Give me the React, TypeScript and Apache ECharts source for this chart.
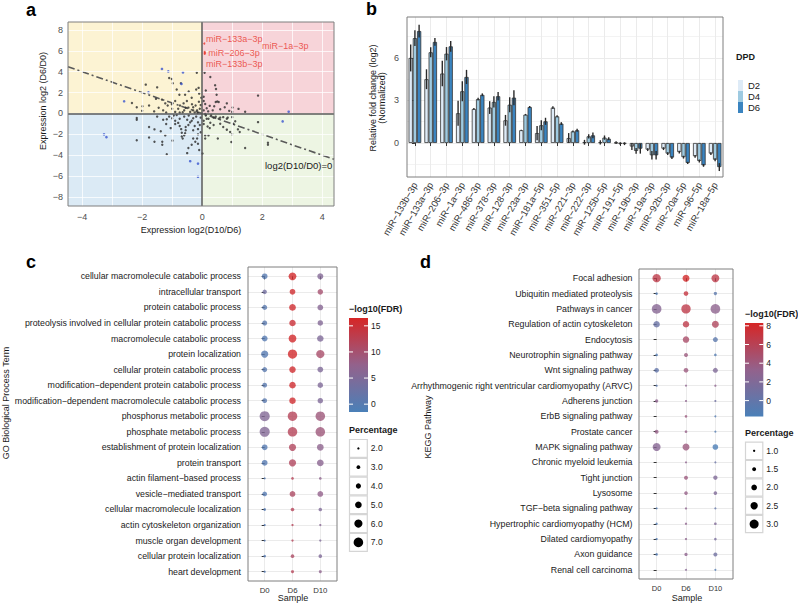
import React, { useEffect, useRef } from "react";
import * as echarts from "echarts";

const FONT = "'Liberation Sans', Arial, Helvetica, sans-serif";
const MINUS = "\u2212";
const fmtNum = (v: number) => String(v).replace("-", MINUS);

// ---------------- Panel a: scatter ----------------
const aPointsBlack: number[][] = [
  [-0.18, 3.9], [-1.1, 3.4], [-1.01, 3.3], [-0.71, 2.9], [-1.88, 2.76], [-1.5, 2.5], [-0.98, 2.9],
  [-0.76, 1.8], [-0.57, 1.8], [-0.1, 1.9], [-0.03, 1.5], [-0.12, 2.45], [-2.34, 1.0], [-2.18, 0.6],
  [-1.99, 0.7], [-1.77, 0.76], [-1.54, 1.4], [-1.34, 1.33], [-1.23, 0.97], [-1.01, 0.88], [-0.9, 1.2],
  [-0.74, 0.76], [-0.62, 0.97], [-0.51, 1.2], [-0.46, 0.56], [-0.34, 0.88], [-0.22, 0.76], [-0.17, 0.3],
  [-0.11, 1.13], [-0.3, 0.3], [-0.4, 0.15], [-0.6, 0.3], [-0.75, 0.1], [-0.9, 0.15], [-1.0, 0.45],
  [-1.15, 0.76], [-1.3, 0.3], [-1.6, 0.2], [-0.05, 0.8], [-0.08, 0.45], [-0.25, 0.1], [-0.55, 0.55],
  [-0.8, 0.45], [-1.45, 0.55], [-0.35, 1.5], [-0.45, 2.1], [-0.2, 2.3], [-0.85, 2.3], [-0.3, 0.6],
  [-2.0, 0.25], [-1.2, 0.1], [-0.65, 0.12], [-0.15, 0.05],
  [0.08, 3.9], [0.27, 3.5], [0.43, 2.7], [0.46, 2.35], [0.48, 1.8], [0.5, 1.15], [0.45, 1.1], [0.55, 1.1],
  [0.82, 0.97], [0.25, 0.73], [1.01, 0.57], [1.21, 0.44], [1.43, 0.17], [1.86, 1.71], [0.05, 1.6],
  [0.05, 1.2], [0.1, 0.9], [0.15, 0.5], [0.35, 0.3], [0.6, 0.4], [0.75, 0.6], [0.9, 0.25], [0.2, 0.2],
  [0.05, 0.3], [1.0, 0.15], [0.4, 0.7], [0.12, 2.2],
  [-2.18, -0.44], [-2.18, -0.6], [-2.18, -2.57], [-1.77, -1.3], [-1.77, -2.3], [-1.59, -1.52],
  [-1.38, -1.7], [-1.59, -2.7], [-1.33, -2.7], [-1.33, -3.0], [-1.18, -3.9], [-1.23, -2.1], [-0.99, -2.6],
  [-1.18, -0.55], [-1.1, -0.3], [-0.95, -0.2], [-0.9, -0.7], [-0.9, -1.0], [-0.8, -0.9], [-0.75, -0.5],
  [-0.75, -1.2], [-0.7, -1.5], [-0.68, -1.85], [-0.68, -2.2], [-0.65, -2.4], [-0.6, -2.1], [-0.57, -1.9],
  [-0.55, -1.6], [-0.46, -1.1], [-0.4, -0.85], [-0.35, -0.7], [-0.3, -0.45], [-0.25, -1.2], [-0.2, -0.3],
  [-0.14, -0.85], [-0.14, -1.5], [-0.14, -2.0], [-0.17, -2.4], [-0.23, -2.7], [-0.3, -2.4], [-0.35, -3.0],
  [-0.46, -3.3], [-0.5, -3.8], [-0.14, -2.9], [-0.1, -3.5], [-1.5, -0.3], [-1.3, -0.6], [-1.0, -0.45],
  [-0.6, -0.3], [-0.5, -0.6], [-0.85, -0.15], [-0.45, -0.2], [-0.55, -1.3], [-1.05, -1.4], [-1.2, -1.0],
  [-0.3, -1.6], [-0.05, -0.4], [-0.08, -1.1], [-0.05, -1.8],
  [2.19, -2.8], [2.19, -3.0], [1.86, -0.83], [1.43, -3.3], [0.97, -2.73], [0.52, -2.4], [0.1, -2.1],
  [0.1, -2.4], [0.01, -3.84], [0.21, -0.5], [0.27, -0.88], [0.38, -1.1], [0.6, -0.98], [0.82, -0.5],
  [0.6, -0.4], [0.85, -0.4], [1.04, -0.98], [1.19, -1.52], [1.25, -1.78], [0.7, -1.3], [0.82, -1.55],
  [0.25, -1.4], [0.18, -1.25], [0.15, -0.5], [0.12, -0.2], [0.1, -0.05], [0.45, -0.3], [0.55, -0.5],
  [0.38, -0.4], [0.7, -0.35], [1.0, -0.35], [1.1, -0.75], [0.3, -0.15], [0.05, -0.7], [0.05, -1.0],
  [0.93, -1.78], [1.0, -2.0], [0.21, -2.1],
];
const aPointsBlue: number[][] = [
  [-1.34, 4.26], [-1.13, 4.03], [-0.64, 3.93], [-0.69, 2.83], [-1.79, 2.03], [-2.6, 1.17], [2.88, 0.17],
  [-3.27, -2.0], [-3.19, -2.27], [-0.4, -4.57], [-0.14, -4.8], [-0.14, -6.06], [2.68, -0.76],
];
const aLabelNames = ["miR" + MINUS + "133a" + MINUS + "3p", "miR" + MINUS + "1a" + MINUS + "3p", "miR" + MINUS + "206" + MINUS + "3p", "miR" + MINUS + "133b" + MINUS + "3p"];
const aLabelX = [0.07, 0.08, 0.08, 0.09];
const aLabelY = [6.7, 5.9, 5.7, 5.8];
const aLabelPos = [[2.7, -4], [58.4, -4.4], [4.7, 0], [2.1, 11.6]];
const aXRange = [-4.47, 4.39];
const aYRange = [-8.86, 8.76];
const aXTicks = [-4, -2, 0, 2, 4];
const aYTicks = [-8, -6, -4, -2, 0, 2, 4, 6, 8];
const aXGrid = [-4, -3, -2, -1, 1, 2, 3, 4];
const aYGrid = [-8, -6, -4, -2, 2, 4, 6, 8];

// ---------------- Panel b: bars ----------------
const miRNAs = [
  "miR−133b−3p", "miR−133a−3p", "miR−206−3p", "miR−1a−3p", "miR−486−3p", "miR−378−3p", "miR−128−3p",
  "miR−23a−3p", "miR−181a−5p", "miR−351−5p", "miR−221−3p", "miR−222−3p", "miR−125b−5p", "miR−191−5p",
  "miR−19b−3p", "miR−19a−3p", "miR−92b−3p", "miR−20a−5p", "miR−96−5p", "miR−18a−5p",
];
const dpd = ["D2", "D4", "D6"];
const valD2 = [6.0, 4.5, 4.9, 2.1, 2.4, 2.5, 1.6, 0.9, 0.7, 2.5, 0.35, 0.05, 0.05, 0.02, -0.25, -0.47, -0.4, -0.64, -0.94, -0.75];
const errD2 = [0.95, 0.7, 0.9, 0.88, 0.06, 0.45, 0.38, 0.04, 0.5, 0.1, 0.35, 0.17, 0.15, 0.1, 0.25, 0.1, 0.1, 0.1, 0.1, 0.1];
const valD4 = [7.4, 6.4, 6.3, 3.65, 3.1, 2.9, 2.7, 2.0, 1.25, 1.88, 0.82, 0.47, 0.38, -0.05, -0.56, -0.87, -0.75, -1.0, -1.27, -1.18];
const errD4 = [0.55, 0.35, 0.47, 0.7, 0.1, 0.4, 0.53, 0.05, 0.35, 0.07, 0.06, 0.15, 0.15, 0.1, 0.2, 0.3, 0.1, 0.1, 0.1, 0.1];
const valD6 = [7.9, 7.13, 6.82, 4.66, 3.4, 3.3, 3.2, 2.54, 1.53, 1.37, 0.9, 0.54, 0.3, -0.05, -0.4, -0.87, -1.03, -1.41, -1.58, -1.7];
const errD6 = [0.45, 0.27, 0.38, 0.5, 0.1, 0.3, 0.53, 0.07, 0.25, 0.1, 0.1, 0.2, 0.1, 0.1, 0.35, 0.3, 0.1, 0.08, 0.1, 0.28];
const bYTicks = [0, 3, 6];
const bYRange = [-2.4, 8.89];

// ---------------- Panel c: GO dot plot ----------------
const samples = ["D0", "D6", "D10"];
const goTerms = [
  "cellular macromolecule catabolic process", "intracellular transport", "protein catabolic process",
  "proteolysis involved in cellular protein catabolic process", "macromolecule catabolic process",
  "protein localization", "cellular protein catabolic process",
  "modification−dependent protein catabolic process",
  "modification−dependent macromolecule catabolic process", "phosphorus metabolic process",
  "phosphate metabolic process", "establishment of protein localization", "protein transport",
  "actin filament−based process", "vesicle−mediated transport", "cellular macromolecule localization",
  "actin cytoskeleton organization", "muscle organ development", "cellular protein localization",
  "heart development",
];
const goPctD0 = [4.4, 3.5, 3.9, 3.9, 4.4, 5.4, 3.9, 3.7, 3.7, 7.4, 7.4, 4.4, 4.4, 1.9, 3.7, 2.3, 1.9, 1.9, 2.3, 2.0];
const goPctD6 = [5.8, 4.4, 5.1, 4.9, 5.8, 6.8, 4.9, 4.9, 4.9, 7.0, 7.0, 5.4, 5.4, 2.3, 4.4, 2.9, 2.0, 2.0, 2.9, 2.5];
const goPctD10 = [4.6, 4.2, 4.4, 4.2, 4.9, 6.1, 4.4, 4.2, 4.2, 7.0, 7.0, 5.1, 5.1, 2.3, 4.4, 2.9, 2.0, 2.0, 2.9, 2.5];
const goFdrD0 = [0.2, 3.5, 0.5, 0.5, 0, 0, 0.5, 0.5, 0.5, 5.5, 5.5, 0, 0, 0, 0, 0, 0, 0, 0, 0];
const goFdrD6 = [16, 15.5, 15.5, 15, 16, 16, 15.5, 15.5, 15.5, 12, 12, 11.5, 11.5, 12, 11, 12, 12, 12, 11, 12];
const goFdrD10 = [5.5, 10, 6, 5.5, 5, 10.5, 5, 5, 5, 9, 9, 7, 6.5, 7, 7.5, 5, 6, 5, 5, 7];
const goFdrRange = [-1.5, 16.5];
const goFdrTicks = [0, 5, 10, 15];
const goPctBreaks = [2.0, 3.0, 4.0, 5.0, 6.0, 7.0];

// ---------------- Panel d: KEGG dot plot ----------------
const keggTerms = [
  "Focal adhesion", "Ubiquitin mediated proteolysis", "Pathways in cancer", "Regulation of actin cytoskeleton",
  "Endocytosis", "Neurotrophin signaling pathway", "Wnt signaling pathway",
  "Arrhythmogenic right ventricular cardiomyopathy (ARVC)", "Adherens junction", "ErbB signaling pathway",
  "Prostate cancer", "MAPK signaling pathway", "Chronic myeloid leukemia", "Tight junction", "Lysosome",
  "TGF−beta signaling pathway", "Hypertrophic cardiomyopathy (HCM)", "Dilated cardiomyopathy",
  "Axon guidance", "Renal cell carcinoma",
];
const keggPctD0 = [2.8, 1.1, 3.2, 2.25, null, 1.1, 1.7, 1.0, 1.3, null, 1.5, 2.7, null, null, null, 0.95, 1.0, 1.0, 1.1, null];
const keggPctD6 = [2.4, 1.7, 3.1, 2.25, 2.25, 1.5, 1.7, 0.95, 0.95, 1.1, 1.1, 2.4, 0.95, 1.5, 1.4, 1.0, 1.0, 1.0, 1.3, 0.9];
const keggPctD10 = [2.7, 1.3, 3.2, 2.4, 1.8, 1.1, 1.8, 1.0, 0.95, 0.9, 0.95, 2.0, 0.95, 1.6, 1.4, 0.95, 1.1, 1.1, 1.5, 0.9];
const keggFdrD0 = [6.5, -1, 2.5, 0.5, null, -1, 0, -0.5, 3, null, 3.5, 2.5, null, null, null, -1, -1, -1, -1, null];
const keggFdrD6 = [8, 7, 6.5, 6.5, 5, 4, 4, 3, 3, 4, 3.5, 4, 3, 4, 3.5, 3, 3, 3, 3, 2.5];
const keggFdrD10 = [6.5, -0.5, 3, 5.5, -0.5, -1, 2, 3, 1, -1, -1, -1.5, 0.5, 2, 2, 0, 2, 1.5, 1, -1];
const keggFdrRange = [-1.7, 8.3];
const keggFdrTicks = [0, 2, 4, 6, 8];
const keggPctBreaks = [1.0, 1.5, 2.0, 2.5, 3.0];

// ---------------- layout / style ----------------
const gridA = { left: 68, top: 22, width: 266, height: 184 };
const gridB = { left: 407, top: 17, width: 316, height: 160 };
const gridC = { left: 248, top: 267, width: 89, height: 314 };
const gridD = { left: 639, top: 269, width: 94, height: 310 };
const fdrColors = ["#4A80B8", "#93628C", "#D62626"];
const barColors = ["#DEEBF7", "#9ECAE1", "#3A84C0"];
const sizeC = (p: number) => 2.3 + (p - 2) * 1.45;
const sizeD = (p: number) => 2.3 + (p - 1) * 3.35;

function dotData(pcts: (number | null)[][], fdrs: (number | null)[][]) {
  const out: number[][] = [];
  pcts.forEach((arr, s) => {
    arr.forEach((p, i) => {
      const f = fdrs[s][i];
      if (p !== null && f !== null) out.push([s, i, p, f]);
    });
  });
  return out;
}

export default function App() {
  const ref = useRef<HTMLDivElement>(null);
  useEffect(() => {
    if (!ref.current) return;
    const chart = echarts.init(ref.current, undefined, { renderer: "svg" });

    const txt = (text: string, x: number, y: number, opts: any = {}) => ({
      type: "text",
      x,
      y,
      rotation: opts.rotation || 0,
      z: 100,
      silent: true,
      style: {
        text,
        fill: opts.fill || "#1A1A1A",
        fontSize: opts.fontSize || 9,
        fontWeight: opts.fontWeight || "normal",
        fontFamily: FONT,
        align: opts.align || "center",
        verticalAlign: opts.verticalAlign || "middle",
      },
    });
    const border = (g: any) => ({
      type: "rect",
      z: 100,
      silent: true,
      shape: { x: g.left, y: g.top, width: g.width, height: g.height },
      style: { fill: "none", stroke: "#7F7F7F", lineWidth: 1 },
    });

    const colorBar = (x: number, y: number, w: number, h: number, range: number[], ticks: number[], title: string) => {
      const els: any[] = [];
      els.push(txt(title, x, y - 9, { align: "left", fontWeight: "bold", fontSize: 9 }));
      els.push({
        type: "rect",
        z: 100,
        silent: true,
        shape: { x, y, width: w, height: h },
        style: {
          fill: new echarts.graphic.LinearGradient(0, 1, 0, 0,
            fdrColors.map((c, i) => ({ offset: i / (fdrColors.length - 1), color: c }))),
        },
      });
      ticks.forEach((t) => {
        const ty = y + ((range[1] - t) / (range[1] - range[0])) * h;
        els.push({ type: "line", z: 101, silent: true, shape: { x1: x, y1: ty, x2: x + 4, y2: ty }, style: { stroke: "#fff", lineWidth: 1 } });
        els.push({ type: "line", z: 101, silent: true, shape: { x1: x + w - 4, y1: ty, x2: x + w, y2: ty }, style: { stroke: "#fff", lineWidth: 1 } });
        els.push(txt(String(t), x + w + 3, ty, { align: "left", fontSize: 8.5 }));
      });
      return els;
    };
    const sizeLegend = (x: number, y: number, key: number, breaks: number[], fn: (p: number) => number) => {
      const els: any[] = [];
      els.push(txt("Percentage", x, y - 9, { align: "left", fontWeight: "bold", fontSize: 9 }));
      breaks.forEach((b, i) => {
        const ky = y + i * key;
        els.push({ type: "rect", z: 100, silent: true, shape: { x: x + 0.5, y: ky + 0.5, width: key - 1, height: key - 1 }, style: { fill: "#fff", stroke: "#D5D5D5", lineWidth: 1.2 } });
        els.push({ type: "circle", z: 101, silent: true, shape: { cx: x + key / 2, cy: ky + key / 2, r: fn(b) / 2 }, style: { fill: "#000" } });
        els.push(txt(b.toFixed(1), x + key + 3, ky + key / 2, { align: "left", fontSize: 8.5 }));
      });
      return els;
    };

    const axisCommon = {
      axisLine: { show: false },
      axisTick: { show: true, length: 3, lineStyle: { color: "#333", width: 1 } },
      axisLabel: { color: "#4D4D4D", fontSize: 9, fontFamily: FONT },
    };

    const quadrants = [
      [{ xAxis: aXRange[0], yAxis: 0, itemStyle: { color: "#FCF3D3" } }, { xAxis: 0, yAxis: aYRange[1] }],
      [{ xAxis: 0, yAxis: 0, itemStyle: { color: "#F7D4D9" } }, { xAxis: aXRange[1], yAxis: aYRange[1] }],
      [{ xAxis: aXRange[0], yAxis: aYRange[0], itemStyle: { color: "#DBEAF5" } }, { xAxis: 0, yAxis: 0 }],
      [{ xAxis: 0, yAxis: aYRange[0], itemStyle: { color: "#EDF5E3" } }, { xAxis: aXRange[1], yAxis: 0 }],
    ];

    const series: any[] = [];
    series.push({
      type: "scatter", xAxisIndex: 0, yAxisIndex: 0, data: [], z: 1, silent: true,
      markArea: { silent: true, itemStyle: { opacity: 1 }, data: quadrants },
    });
    series.push({
      type: "scatter", xAxisIndex: 0, yAxisIndex: 0, data: [], z: 2, silent: true,
      markLine: {
        silent: true, symbol: "none", label: { show: false },
        lineStyle: { color: "rgba(255,255,255,0.75)", width: 1, type: "solid" },
        data: [...aXGrid.map((x) => ({ xAxis: x })), ...aYGrid.map((y) => ({ yAxis: y }))],
      },
    });
    series.push({
      type: "line", xAxisIndex: 0, yAxisIndex: 0, z: 3, silent: true, symbol: "none",
      data: aXRange.map((x) => [x, -x]),
      lineStyle: { color: "#5A5A5A", width: 1.6, type: [7, 3, 2, 3] },
      markLine: {
        silent: true, symbol: "none", label: { show: false },
        lineStyle: { color: "#5A5A5A", width: 1.5, type: "solid" },
        data: [{ xAxis: 0 }, { yAxis: 0 }],
      },
    });
    series.push({
      type: "scatter", xAxisIndex: 0, yAxisIndex: 0, z: 4, data: aPointsBlack, symbolSize: 2.4,
      itemStyle: { color: "#2B2B2B" },
    });
    series.push({
      type: "scatter", xAxisIndex: 0, yAxisIndex: 0, z: 4, data: aPointsBlue, symbolSize: 2.6,
      itemStyle: { color: "#3A55D0" },
    });
    series.push({
      type: "scatter", xAxisIndex: 0, yAxisIndex: 0, z: 5, symbolSize: 2,
      itemStyle: { color: "#E8362C" },
      data: aLabelNames.map((n, i) => ({
        name: n,
        value: [aLabelX[i], aLabelY[i]],
        label: {
          show: true, formatter: n, position: aLabelPos[i], align: "left", verticalAlign: "middle",
          color: "#E8362C", fontSize: 9, lineHeight: 8, fontFamily: FONT,
        },
      })),
    });

    // panel b
    const bVals = [valD2, valD4, valD6];
    const bErrs = [errD2, errD4, errD6];
    dpd.forEach((d, k) => {
      series.push({
        type: "bar", name: d, xAxisIndex: 1, yAxisIndex: 1, data: bVals[k], z: 3,
        barGap: "0%", barCategoryGap: "20%",
        itemStyle: { color: barColors[k], borderColor: "#333", borderWidth: 0.8 },
      });
    });
    dpd.forEach((d, k) => {
      series.push({
        type: "custom", name: "err" + d, xAxisIndex: 1, yAxisIndex: 1, z: 4, silent: true,
        encode: { x: 0, y: [1, 2] },
        data: bVals[k].map((v, i) => [i, v - bErrs[k][i], v + bErrs[k][i]]),
        renderItem: (params: any, api: any) => {
          const i = api.value(0);
          const lo = api.coord([i, api.value(1)]);
          const hi = api.coord([i, api.value(2)]);
          const band = api.size([1, 0])[0];
          const bw = (band * 0.8) / 3;
          const off = (k - 1) * bw;
          return {
            type: "line",
            shape: { x1: lo[0] + off, y1: lo[1], x2: hi[0] + off, y2: hi[1] },
            style: { stroke: "#2A2A2A", lineWidth: 1.4 },
          };
        },
      });
    });

    // panel c / d
    const cIndex = series.length;
    series.push({
      type: "scatter", xAxisIndex: 3, yAxisIndex: 2, z: 3,
      data: dotData([goPctD0, goPctD6, goPctD10], [goFdrD0, goFdrD6, goFdrD10]),
      symbolSize: (v: number[]) => sizeC(v[2]),
    });
    const dIndex = series.length;
    series.push({
      type: "scatter", xAxisIndex: 4, yAxisIndex: 3, z: 3,
      data: dotData([keggPctD0, keggPctD6, keggPctD10], [keggFdrD0, keggFdrD6, keggFdrD10]),
      symbolSize: (v: number[]) => sizeD(v[2]),
    });

    const rowIdx = goTerms.map((_, i) => i);
    const colIdx = samples.map((_, i) => i);
    const catSplit = { show: true, lineStyle: { color: "#EBEBEB", width: 1 } };

    const option: any = {
      animation: false,
      backgroundColor: "#fff",
      textStyle: { fontFamily: FONT },
      grid: [
        { ...gridA, show: true, backgroundColor: "#fff", borderWidth: 0 },
        { ...gridB, show: true, backgroundColor: "#fff", borderWidth: 0 },
        { ...gridC, show: true, backgroundColor: "#fff", borderWidth: 0 },
        { ...gridD, show: true, backgroundColor: "#fff", borderWidth: 0 },
      ],
      xAxis: [
        {
          ...axisCommon, type: "value", gridIndex: 0, min: aXRange[0], max: aXRange[1], splitNumber: 4,
          axisTick: { ...axisCommon.axisTick, customValues: aXTicks },
          axisLabel: { ...axisCommon.axisLabel, customValues: aXTicks, formatter: fmtNum, margin: 6 },
          splitLine: { show: false },
        },
        {
          ...axisCommon, type: "category", gridIndex: 1, data: miRNAs,
          axisTick: { ...axisCommon.axisTick, alignWithLabel: true },
          axisLabel: { ...axisCommon.axisLabel, rotate: 60, interval: 0, margin: 6, fontSize: 9.5, color: "#333" },
          splitLine: { show: false },
        },
        {
          type: "value", gridIndex: 1, min: -0.5, max: miRNAs.length - 0.5, splitNumber: miRNAs.length,
          axisLine: { show: false }, axisTick: { show: false, customValues: miRNAs.map((_, i) => i) },
          axisLabel: { show: false, customValues: miRNAs.map((_, i) => i) },
          splitLine: catSplit,
        },
        {
          ...axisCommon, type: "value", gridIndex: 2, min: -0.6, max: samples.length - 0.4, splitNumber: 3,
          axisTick: { ...axisCommon.axisTick, customValues: colIdx },
          axisLabel: { ...axisCommon.axisLabel, customValues: colIdx, formatter: (v: number) => samples[Math.round(v)], fontSize: 7.8, margin: 5, color: "#333" },
          splitLine: catSplit,
        },
        {
          ...axisCommon, type: "value", gridIndex: 3, min: -0.6, max: samples.length - 0.4, splitNumber: 3,
          axisTick: { ...axisCommon.axisTick, customValues: colIdx },
          axisLabel: { ...axisCommon.axisLabel, customValues: colIdx, formatter: (v: number) => samples[Math.round(v)], fontSize: 7.5, margin: 5, color: "#333" },
          splitLine: catSplit,
        },
      ],
      yAxis: [
        {
          ...axisCommon, type: "value", gridIndex: 0, min: aYRange[0], max: aYRange[1], splitNumber: 8,
          axisTick: { ...axisCommon.axisTick, customValues: aYTicks },
          axisLabel: { ...axisCommon.axisLabel, customValues: aYTicks, formatter: fmtNum, margin: 5 },
          splitLine: { show: false },
        },
        {
          ...axisCommon, type: "value", gridIndex: 1, min: bYRange[0], max: bYRange[1], splitNumber: 4,
          axisTick: { ...axisCommon.axisTick, customValues: bYTicks },
          axisLabel: { ...axisCommon.axisLabel, customValues: bYTicks, margin: 8 },
          splitLine: catSplit,
          minorTick: { show: false, splitNumber: 2 },
          minorSplitLine: { show: true, lineStyle: { color: "#F3F3F3", width: 1 } },
        },
        {
          ...axisCommon, type: "value", gridIndex: 2, inverse: true, min: -0.6, max: goTerms.length - 0.4,
          splitNumber: goTerms.length,
          axisTick: { ...axisCommon.axisTick, customValues: rowIdx },
          axisLabel: { ...axisCommon.axisLabel, customValues: rowIdx, formatter: (v: number) => goTerms[Math.round(v)], fontSize: 8.8, margin: 7, color: "#1A1A1A" },
          splitLine: catSplit,
        },
        {
          ...axisCommon, type: "value", gridIndex: 3, inverse: true, min: -0.6, max: keggTerms.length - 0.4,
          splitNumber: keggTerms.length,
          axisTick: { ...axisCommon.axisTick, customValues: rowIdx },
          axisLabel: { ...axisCommon.axisLabel, customValues: rowIdx, formatter: (v: number) => keggTerms[Math.round(v)], fontSize: 8.8, margin: 6.5, color: "#1A1A1A" },
          splitLine: catSplit,
        },
      ],
      visualMap: [
        { type: "continuous", show: false, seriesIndex: cIndex, dimension: 3, min: goFdrRange[0], max: goFdrRange[1], inRange: { color: fdrColors } },
        { type: "continuous", show: false, seriesIndex: dIndex, dimension: 3, min: keggFdrRange[0], max: keggFdrRange[1], inRange: { color: fdrColors } },
      ],
      legend: {
        data: dpd, orient: "vertical", left: 733, top: 75, itemWidth: 5, itemHeight: 11, itemGap: 0,
        icon: "rect", selectedMode: false,
        itemStyle: { borderWidth: 0 },
        textStyle: { fontSize: 9.5, color: "#1A1A1A", fontFamily: FONT },
      },
      series,
      graphic: [
        border(gridA), border(gridB), border(gridC), border(gridD),
        txt("a", 26, 10.4, { fontSize: 18, fontWeight: "bold", align: "left", fill: "#000" }),
        txt("b", 366, 8.7, { fontSize: 18, fontWeight: "bold", align: "left", fill: "#000" }),
        txt("c", 26, 262, { fontSize: 18, fontWeight: "bold", align: "left", fill: "#000" }),
        txt("d", 420, 262, { fontSize: 18, fontWeight: "bold", align: "left", fill: "#000" }),
        txt("Expression log2(D10/D6)", 191, 230, {}),
        txt("Expression log2 (D6/D0)", 43, 101, { rotation: Math.PI / 2 }),
        txt("log2(D10/D0)=0", 265, 165, { align: "left", fontSize: 9.5 }),
        txt("Relative fold change (log2)\n(Normalized)", 377, 98, { rotation: Math.PI / 2 }),
        txt("DPD", 736, 57, { align: "left", fontWeight: "bold" }),
        txt("GO Biological Process Term", 6, 403, { rotation: Math.PI / 2 }),
        txt("Sample", 293, 598, {}),
        txt("KEGG Pathway", 428, 427, { rotation: Math.PI / 2 }),
        txt("Sample", 687, 598, {}),
        ...colorBar(349, 318, 19, 94, goFdrRange, goFdrTicks, "−log10(FDR)"),
        ...sizeLegend(349, 439, 18.8, goPctBreaks, sizeC),
        ...colorBar(745, 323, 18.3, 93.5, keggFdrRange, keggFdrTicks, "−log10(FDR)"),
        ...sizeLegend(745, 441.7, 18.3, keggPctBreaks, sizeD),
      ],
    };
    chart.setOption(option);
    return () => chart.dispose();
  }, []);

  return (
    <div
      ref={ref}
      style={{ position: "absolute", left: 0, top: 0, width: 798, height: 604, background: "#fff" }}
    />
  );
}
